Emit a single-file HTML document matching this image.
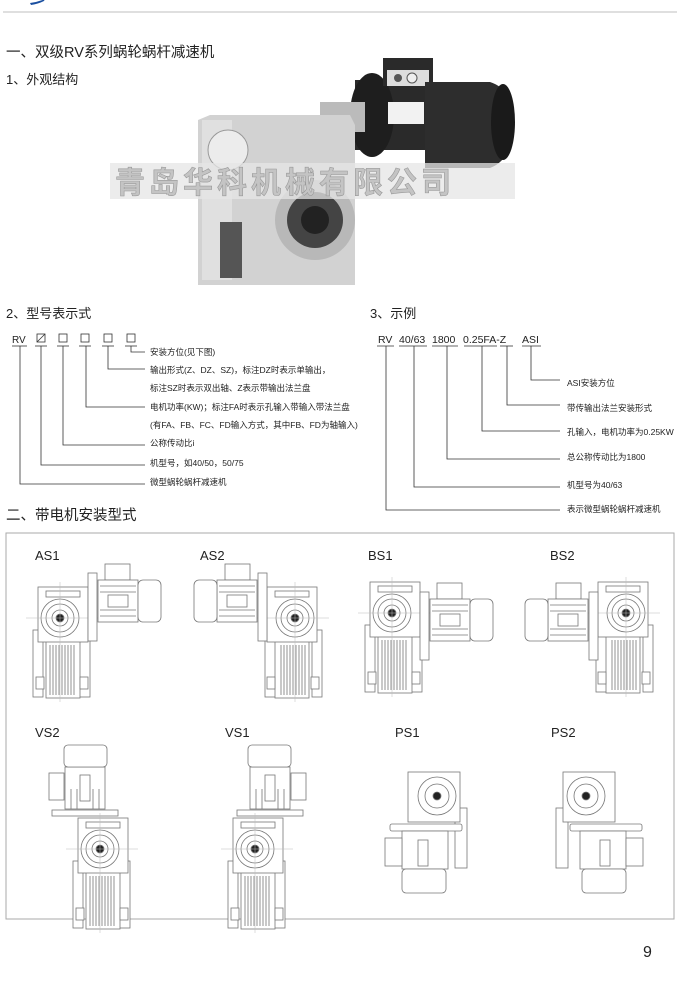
<!DOCTYPE html>
<html><head><meta charset="utf-8">
<style>
html,body{margin:0;padding:0;background:#fff;}
svg{display:block;}
text{font-family:"Liberation Sans","Noto Sans CJK SC",sans-serif;fill:#222;}
</style></head>
<body>
<svg width="680" height="993" viewBox="0 0 680 993" xmlns="http://www.w3.org/2000/svg">
<defs>
  <g id="gb" stroke="#777" stroke-width="0.8" fill="#fff">
    <rect x="-5" y="43" width="10" height="67"/>
    <rect x="40" y="43" width="12" height="67"/>
    <rect x="8" y="53" width="34" height="58"/>
    <line x1="12" y1="58" x2="12" y2="108"/><line x1="15" y1="58" x2="15" y2="108"/><line x1="18" y1="58" x2="18" y2="108"/>
    <line x1="21" y1="58" x2="21" y2="108"/><line x1="24" y1="58" x2="24" y2="108"/><line x1="27" y1="58" x2="27" y2="108"/>
    <line x1="30" y1="58" x2="30" y2="108"/><line x1="33" y1="58" x2="33" y2="108"/><line x1="36" y1="58" x2="36" y2="108"/>
    <rect x="-2" y="90" width="8" height="12"/><rect x="42" y="90" width="8" height="12"/>
    <rect x="0" y="0" width="50" height="55"/>
    <rect x="8" y="4" width="34" height="6"/>
    <circle cx="22" cy="31" r="19"/>
    <circle cx="22" cy="31" r="14"/>
    <circle cx="22" cy="31" r="8"/>
    <circle cx="22" cy="31" r="4" fill="#222"/>
    <line x1="-12" y1="31" x2="60" y2="31" stroke="#bbb" stroke-width="0.5"/>
    <line x1="22" y1="-5" x2="22" y2="115" stroke="#bbb" stroke-width="0.5"/>
  </g>
  <g id="mh" stroke="#777" stroke-width="0.8" fill="#fff">
    <rect x="0" y="-28" width="9" height="68"/>
    <rect x="17" y="-37" width="25" height="16"/>
    <rect x="10" y="-21" width="40" height="42"/>
    <line x1="12" y1="-15" x2="48" y2="-15"/><line x1="12" y1="-9" x2="48" y2="-9"/>
    <line x1="12" y1="9" x2="48" y2="9"/><line x1="12" y1="15" x2="48" y2="15"/>
    <rect x="20" y="-6" width="20" height="12"/>
    <rect x="50" y="-21" width="23" height="42" rx="5"/>
  </g>
  <g id="mv" stroke="#777" stroke-width="0.8" fill="#fff">
    <rect x="-16" y="6" width="15" height="27"/>
    <rect x="-13" y="43" width="66" height="6"/>
    <rect x="0" y="0" width="40" height="42"/>
    <line x1="6" y1="22" x2="6" y2="42"/><line x1="12" y1="22" x2="12" y2="42"/>
    <line x1="28" y1="22" x2="28" y2="42"/><line x1="34" y1="22" x2="34" y2="42"/>
    <rect x="15" y="8" width="10" height="26"/>
    <rect x="-1" y="-22" width="43" height="22" rx="4"/>
  </g>
</defs>

<path d="M30 3 Q38 2 45 -1 L44 1 Q38 4 31 5 Z" fill="#1a4fa0"/>
<line x1="3" y1="12" x2="677" y2="12" stroke="#ccc" stroke-width="1.2"/>

<text x="6" y="57" font-size="14.5">一、双级RV系列蜗轮蜗杆减速机</text>
<text x="6" y="84" font-size="13">1、外观结构</text>

<g>
  <rect x="355" y="80" width="70" height="70" fill="#2a2a2a"/>
  <ellipse cx="372" cy="115" rx="22" ry="42" fill="#1e1e1e"/>
  <rect x="383" y="58" width="50" height="28" fill="#2a2a2a"/>
  <rect x="387" y="70" width="42" height="16" fill="#ddd"/>
  <circle cx="398" cy="78" r="4" fill="#555"/><circle cx="412" cy="78" r="5" fill="#eee" stroke="#555"/>
  <path d="M425 82 H490 Q515 90 514 125 Q512 160 490 168 H425 Z" fill="#2d2d2d"/>
  <ellipse cx="503" cy="122" rx="12" ry="38" fill="#1a1a1a"/>
  <rect x="388" y="102" width="36" height="22" fill="#f2f2f2"/>
  <rect x="320" y="102" width="45" height="30" fill="#bbb"/>
  <path d="M198 120 L210 115 H350 L355 125 V285 H198 Z" fill="#d2d2d2"/>
  <rect x="202" y="120" width="30" height="160" fill="#e0e0e0"/>
  <circle cx="228" cy="150" r="20" fill="#ececec" stroke="#999"/>
  <rect x="220" y="222" width="22" height="56" fill="#555"/>
  <circle cx="315" cy="220" r="40" fill="#b8b8b8"/>
  <circle cx="315" cy="220" r="28" fill="#444"/>
  <circle cx="315" cy="220" r="14" fill="#222"/>
  <rect x="110" y="163" width="405" height="36" fill="#e6e6e6" opacity="0.75"/>
  <text x="115" y="193" font-size="30" font-weight="bold" style="fill:#c4c4c4;stroke:#999;stroke-width:0.6" letter-spacing="4">青岛华科机械有限公司</text>
</g>

<text x="6" y="318" font-size="13">2、型号表示式</text>
<text x="12" y="343" font-size="10">RV</text>
<g stroke="#333" stroke-width="0.8" fill="none">
  <rect x="37" y="334" width="8" height="8"/><line x1="37" y1="342" x2="45" y2="334"/>
  <rect x="59" y="334" width="8" height="8"/>
  <rect x="81" y="334" width="8" height="8"/>
  <rect x="104" y="334" width="8" height="8"/>
  <rect x="127" y="334" width="8" height="8"/>
  <line x1="12" y1="346" x2="27" y2="346"/><line x1="35" y1="346" x2="47" y2="346"/>
  <line x1="57" y1="346" x2="69" y2="346"/><line x1="79" y1="346" x2="91" y2="346"/>
  <line x1="102" y1="346" x2="114" y2="346"/><line x1="125" y1="346" x2="137" y2="346"/>
  <polyline points="20,346 20,484 145,484"/>
  <polyline points="41,346 41,465 145,465"/>
  <polyline points="63,346 63,445 145,445"/>
  <polyline points="86,346 86,407 145,407"/>
  <polyline points="108,346 108,369 145,369"/>
  <polyline points="131,346 131,352 145,352"/>
</g>
<g font-size="8.5">
<text x="150" y="355">安装方位(见下图)</text>
<text x="150" y="373">输出形式(Z、DZ、SZ)，标注DZ时表示单输出，</text>
<text x="150" y="391">标注SZ时表示双出轴、Z表示带输出法兰盘</text>
<text x="150" y="410">电机功率(KW)；标注FA时表示孔输入带输入带法兰盘</text>
<text x="150" y="428">(有FA、FB、FC、FD输入方式，其中FB、FD为轴输入)</text>
<text x="150" y="446">公称传动比i</text>
<text x="150" y="466">机型号，如40/50，50/75</text>
<text x="150" y="485">微型蜗轮蜗杆减速机</text>
</g>

<text x="370" y="318" font-size="13">3、示例</text>
<g font-size="10.5">
<text x="378" y="343">RV</text>
<text x="399" y="343">40/63</text>
<text x="432" y="343">1800</text>
<text x="463" y="343">0.25FA-Z</text>
<text x="522" y="343">ASI</text>
</g>
<g stroke="#333" stroke-width="0.8" fill="none">
  <line x1="377" y1="346" x2="394" y2="346"/><line x1="399" y1="346" x2="427" y2="346"/>
  <line x1="432" y1="346" x2="458" y2="346"/><line x1="464" y1="346" x2="497" y2="346"/>
  <line x1="500" y1="346" x2="513" y2="346"/><line x1="522" y1="346" x2="541" y2="346"/>
  <polyline points="386,346 386,510 560,510"/>
  <polyline points="414,346 414,487 560,487"/>
  <polyline points="447,346 447,459 560,459"/>
  <polyline points="482,346 482,431 560,431"/>
  <polyline points="507,346 507,405 560,405"/>
  <polyline points="531,346 531,380 560,380"/>
</g>
<g font-size="8.5">
<text x="567" y="386">ASI安装方位</text>
<text x="567" y="411">带传输出法兰安装形式</text>
<text x="567" y="435">孔输入，电机功率为0.25KW</text>
<text x="567" y="460">总公称传动比为1800</text>
<text x="567" y="488">机型号为40/63</text>
<text x="567" y="512">表示微型蜗轮蜗杆减速机</text>
</g>

<text x="6" y="520" font-size="14.5">二、带电机安装型式</text>
<rect x="6" y="533" width="668" height="386" fill="none" stroke="#aaa" stroke-width="1"/>

<g font-size="13">
<text x="35" y="560">AS1</text><text x="200" y="560">AS2</text>
<text x="368" y="560">BS1</text><text x="550" y="560">BS2</text>
<text x="35" y="737">VS2</text><text x="225" y="737">VS1</text>
<text x="395" y="737">PS1</text><text x="551" y="737">PS2</text>
</g>

<use href="#gb" x="38" y="587"/>
<use href="#mh" transform="translate(88,601)"/>
<use href="#gb" transform="translate(317,587) scale(-1,1)"/>
<use href="#mh" transform="translate(267,601) scale(-1,1)"/>
<use href="#gb" x="370" y="582"/>
<use href="#mh" transform="translate(420,620)"/>
<use href="#gb" transform="translate(648,582) scale(-1,1)"/>
<use href="#mh" transform="translate(598,620) scale(-1,1)"/>
<use href="#mv" transform="translate(65,767)"/>
<use href="#gb" x="78" y="818"/>
<use href="#mv" transform="translate(290,767) scale(-1,1)"/>
<use href="#gb" x="233" y="818"/>
<g stroke="#777" stroke-width="0.8" fill="#fff">
  <rect x="455" y="808" width="12" height="60"/>
  <rect x="408" y="772" width="52" height="50"/>
  <circle cx="437" cy="796" r="19"/><circle cx="437" cy="796" r="12"/><circle cx="437" cy="796" r="4" fill="#222"/>
  <rect x="390" y="824" width="72" height="7" rx="2"/>
  <rect x="402" y="831" width="46" height="38"/>
  <rect x="385" y="838" width="17" height="28"/>
  <rect x="402" y="869" width="44" height="24" rx="4"/>
  <rect x="418" y="840" width="10" height="26"/>
</g>
<g stroke="#777" stroke-width="0.8" fill="#fff">
  <rect x="556" y="808" width="12" height="60"/>
  <rect x="563" y="772" width="52" height="50"/>
  <circle cx="586" cy="796" r="19"/><circle cx="586" cy="796" r="12"/><circle cx="586" cy="796" r="4" fill="#222"/>
  <rect x="570" y="824" width="72" height="7" rx="2"/>
  <rect x="580" y="831" width="46" height="38"/>
  <rect x="626" y="838" width="17" height="28"/>
  <rect x="582" y="869" width="44" height="24" rx="4"/>
  <rect x="600" y="840" width="10" height="26"/>
</g>

<text x="643" y="957" font-size="16">9</text>
</svg>
</body></html>
